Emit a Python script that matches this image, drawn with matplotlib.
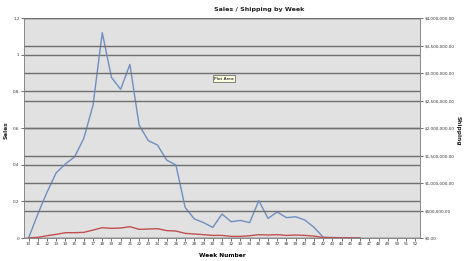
import numpy as np
import matplotlib.pyplot as plt
from matplotlib.ticker import FuncFormatter

weeks = list(range(10, 53))
sales = [0.0, 0.13, 0.25, 0.356, 0.404, 0.443, 0.544, 0.725, 1.12, 0.876,
         0.811, 0.947, 0.616, 0.531, 0.507, 0.425, 0.398, 0.167, 0.104, 0.084,
         0.058, 0.131, 0.089, 0.096, 0.084, 0.204, 0.107, 0.142, 0.111, 0.116,
         0.098, 0.058, 0.004, 0.003, 0.002, 0.002, 0.0]
shipping = [0, 13000, 42000, 67000, 97000, 97000, 103000, 145000, 188000, 176000,
            182000, 206000, 158000, 164000, 170000, 135000, 127000, 85000, 73000, 61000,
            48000, 48000, 30000, 30000, 42000, 61000, 55000, 61000, 48000, 55000,
            48000, 35000, 10000, 5000, 3000, 2000, 0]

# weeks after 46 have no data
sales = sales + [np.nan] * (len(weeks) - len(sales))
shipping = shipping + [np.nan] * (len(weeks) - len(shipping))

fig = plt.figure(figsize=(4.72, 2.61), dpi=100)
ax1 = fig.add_axes([0.0508, 0.088, 0.839, 0.843])
ax1.set_facecolor('#e1e1e1')
ax2 = ax1.twinx()

ax1.plot(weeks, sales, color='#6f8fc0', lw=1.0, zorder=3)
ax2.plot(weeks, shipping, color='#c0504d', lw=1.0, zorder=3)

ax1.set_xlim(9.5, 52.5)
ax1.set_ylim(0, 1.2)
ax2.set_ylim(0, 4000000)
ax1.set_xticks(weeks)
ax1.set_xticklabels([str(w) for w in weeks])
ax1.set_yticks([0, 0.2, 0.4, 0.6, 0.8, 1.0, 1.2])
ax1.yaxis.set_major_formatter(FuncFormatter(lambda v, p: '%g' % v))
ax2.set_yticks(np.arange(0, 4000001, 500000))
ax2.yaxis.set_major_formatter(FuncFormatter(lambda v, p: '${:,.2f}'.format(v)))

ax1.grid(axis='y', color='#6f6f6f', lw=1.0, zorder=1)
ax2.grid(axis='y', color='#6f6f6f', lw=1.0, zorder=1)
ax1.set_axisbelow(True)

for ax in (ax1, ax2):
    ax.tick_params(labelsize=3.0, length=2, width=0.5, colors='#333333', pad=1.2)
    for s in ax.spines.values():
        s.set_color('#888888')
        s.set_linewidth(0.6)
ax1.spines['top'].set_visible(False)
ax2.spines['top'].set_visible(False)

fig.text(0.55, 0.975, 'Sales / Shipping by Week', ha='center', va='top',
         fontsize=4.6, fontweight='bold', color='#222222')
ax1.set_xlabel('Week Number', fontsize=4.2, fontweight='bold', labelpad=5)
fig.text(0.013, 0.5, 'Sales', rotation=90, ha='center', va='center',
         fontsize=4.2, fontweight='bold', color='#222222')
fig.text(0.97, 0.5, 'Shipping', rotation=270, ha='center', va='center',
         fontsize=4.2, fontweight='bold', color='#222222')

ax1.text(0.48, 0.725, 'Plot Area', transform=ax1.transAxes, fontsize=3.2,
         ha='left', va='center', zorder=5,
         bbox=dict(boxstyle='square,pad=0.25', fc='#ffffe1', ec='#555555', lw=0.5))

fig.savefig('out.png', dpi=100)
